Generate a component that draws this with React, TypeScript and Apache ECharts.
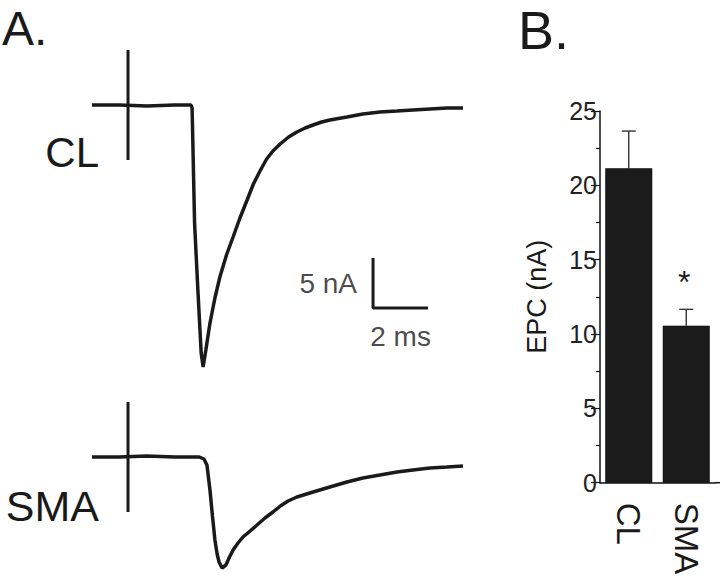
import React, { useEffect, useRef } from "react";
import * as echarts from "echarts";

// ---- Panel A: EPC traces (time in ms, current in nA) ----
const clTime = [0, 1.0, 2.0, 3.0, 3.6, 3.64, 3.73, 3.85, 3.97, 4.04, 4.14, 4.29, 4.47, 4.65, 4.89, 5.13, 5.38, 5.64, 5.87, 6.11, 6.35, 6.58, 6.84, 7.15, 7.45, 7.75, 8.04, 8.35, 8.65, 9.27, 9.85, 10.47, 11.09, 11.67, 12.29, 12.91, 13.49];
const clCurrent = [0, 0, -0.1, 0, 0, -0.3, -11.8, -18.5, -24.8, -26.2, -24.5, -21.8, -19.3, -17.2, -15.0, -13.2, -11.3, -9.5, -7.9, -6.6, -5.4, -4.6, -3.9, -3.2, -2.7, -2.3, -2.0, -1.7, -1.5, -1.2, -0.9, -0.7, -0.6, -0.5, -0.4, -0.3, -0.3];

const smaTime = [0, 1.0, 2.0, 3.0, 3.9, 4.07, 4.18, 4.29, 4.38, 4.47, 4.55, 4.62, 4.73, 4.87, 5.0, 5.13, 5.31, 5.49, 5.75, 6.0, 6.29, 6.58, 6.85, 7.13, 7.45, 8.04, 8.65, 9.27, 9.85, 10.47, 11.09, 11.67, 12.29, 12.91, 13.49];
const smaCurrent = [0, 0, 0.1, 0, 0, -0.2, -0.8, -3.3, -5.9, -8.3, -9.7, -10.5, -11.1, -10.8, -10.0, -9.3, -8.6, -8.0, -7.4, -6.8, -6.1, -5.5, -4.9, -4.4, -4.0, -3.5, -3.0, -2.5, -2.1, -1.8, -1.5, -1.3, -1.1, -1.0, -0.9];

// stimulus artifact (time, current span)
const stimTime = 1.31;
const stimSpan = [5.5, -5.5];

// scale bar: 5 nA vertical, 2 ms horizontal
const scaleBarTime = [10.22, 10.22, 12.22];
const scaleBarCurrent = [-15.3, -20.3, -20.3];
const scaleBarLabels = ["5 nA", "2 ms"];

const traceLabels = ["CL", "SMA"];

// ---- Panel B: bar chart ----
const categories = ["CL", "SMA"];
const epcMean = [21.15, 10.56];
const epcSem = [2.5, 1.1];
const significance = ["", "*"];
const yTicks = { min: 0, max: 25, interval: 5 };

const FONT = "'Liberation Sans', Arial, Helvetica, sans-serif";
const INK = "#1a1a1a";

export default function App() {
  const ref = useRef<HTMLDivElement>(null);

  useEffect(() => {
    if (!ref.current) return;
    const chart = echarts.init(ref.current, undefined, { renderer: "svg" });

    const zip = (a: number[], b: number[]) => a.map((v, i) => [v, b[i]]);

    const hiddenValue = (min: number, max: number, gridIndex: number) => ({
      type: "value" as const,
      gridIndex,
      min,
      max,
      show: false,
      splitLine: { show: false },
    });

    const traceStyle = { color: INK, width: 3.5 };

    const option: any = {
      animation: false,
      backgroundColor: "#ffffff",
      textStyle: { fontFamily: FONT },
      grid: [
        { left: 92, width: 371.25, top: 40, height: 340 },
        { left: 92, width: 371.25, top: 392, height: 185 },
        { left: 600, right: 5, top: 111, height: 371.7 },
      ],
      xAxis: [
        hiddenValue(0, 13.5, 0),
        hiddenValue(0, 13.5, 1),
        {
          type: "category",
          gridIndex: 2,
          data: categories,
          axisLine: { lineStyle: { color: "#111", width: 1.5 } },
          axisTick: { show: false },
          axisLabel: {
            rotate: -90,
            fontSize: 33,
            color: INK,
            margin: 20,
            fontFamily: FONT,
          },
        },
      ],
      yAxis: [
        hiddenValue(-27.5, 6.5, 0),
        hiddenValue(-12, 6.5, 1),
        {
          type: "value",
          gridIndex: 2,
          min: yTicks.min,
          max: yTicks.max,
          interval: yTicks.interval,
          splitLine: { show: false },
          axisLine: { show: true, lineStyle: { color: "#111", width: 1.5 } },
          axisTick: { show: true, length: 9, lineStyle: { color: "#111", width: 1.2 } },
          minorTick: { show: true, splitNumber: 2, length: 4, lineStyle: { color: "#111", width: 1.2 } },
          axisLabel: { fontSize: 25, color: "#222", margin: 3, fontFamily: FONT },
          name: "EPC (nA)",
          nameLocation: "middle",
          nameGap: 50,
          nameTextStyle: { fontSize: 27, color: INK, fontFamily: FONT },
        },
      ],
      series: [
        {
          type: "line",
          xAxisIndex: 0,
          yAxisIndex: 0,
          data: zip(clTime, clCurrent),
          showSymbol: false,
          lineStyle: traceStyle,
          smooth: false,
        },
        {
          type: "line",
          xAxisIndex: 0,
          yAxisIndex: 0,
          data: [[stimTime, stimSpan[0]], [stimTime, stimSpan[1]]],
          showSymbol: false,
          lineStyle: { color: INK, width: 3 },
        },
        {
          type: "line",
          xAxisIndex: 0,
          yAxisIndex: 0,
          data: zip(scaleBarTime, scaleBarCurrent),
          showSymbol: false,
          lineStyle: { color: INK, width: 3 },
        },
        {
          type: "scatter",
          xAxisIndex: 0,
          yAxisIndex: 0,
          symbolSize: 0,
          silent: true,
          data: [
            {
              value: [scaleBarTime[0], (scaleBarCurrent[0] + scaleBarCurrent[1]) / 2],
              label: { show: true, position: "left", distance: 16, formatter: scaleBarLabels[0] },
            },
            {
              value: [(scaleBarTime[1] + scaleBarTime[2]) / 2, scaleBarCurrent[2]],
              label: { show: true, position: "bottom", distance: 14, formatter: scaleBarLabels[1] },
            },
          ],
          label: { fontSize: 28, color: INK, fontFamily: FONT },
        },
        {
          type: "line",
          xAxisIndex: 1,
          yAxisIndex: 1,
          data: zip(smaTime, smaCurrent),
          showSymbol: false,
          lineStyle: traceStyle,
          smooth: false,
        },
        {
          type: "line",
          xAxisIndex: 1,
          yAxisIndex: 1,
          data: [[stimTime, stimSpan[0]], [stimTime, stimSpan[1]]],
          showSymbol: false,
          lineStyle: { color: INK, width: 3 },
        },
        {
          type: "bar",
          xAxisIndex: 2,
          yAxisIndex: 2,
          data: epcMean,
          barWidth: 47,
          itemStyle: { color: "#1b1b1b", borderColor: "#000", borderWidth: 0.5 },
        },
        {
          type: "custom",
          xAxisIndex: 2,
          yAxisIndex: 2,
          data: epcMean.map((m, i) => [i, m, epcSem[i]]),
          encode: { x: 0, y: 1 },
          renderItem: (params: any, api: any) => {
            const i = api.value(0);
            const mean = api.value(1);
            const err = api.value(2);
            const p0 = api.coord([i, mean]);
            const p1 = api.coord([i, mean + err]);
            const children: any[] = [
              {
                type: "line",
                shape: { x1: p0[0], y1: p0[1], x2: p1[0], y2: p1[1] },
                style: { stroke: "#333", lineWidth: 1.4 },
              },
              {
                type: "line",
                shape: { x1: p1[0] - 7, y1: p1[1], x2: p1[0] + 7, y2: p1[1] },
                style: { stroke: "#333", lineWidth: 1.4 },
              },
            ];
            const mark = significance[params.dataIndex];
            if (mark) {
              children.push({
                type: "text",
                x: p1[0] - 2,
                y: p1[1] - 27,
                style: {
                  text: mark,
                  fontSize: 32,
                  fontFamily: FONT,
                  fill: INK,
                  align: "center",
                  verticalAlign: "middle",
                },
              });
            }
            return { type: "group", children };
          },
        },
      ],
      graphic: [
        {
          type: "text",
          style: { text: "A.", x: 2, y: 28, fontSize: 48, fontFamily: FONT, fill: INK, verticalAlign: "middle" },
        },
        {
          type: "text",
          style: { text: "B.", x: 518, y: 30, fontSize: 54, fontFamily: FONT, fill: INK, verticalAlign: "middle" },
        },
        {
          type: "text",
          style: { text: traceLabels[0], x: 99, y: 152, fontSize: 42, fontFamily: FONT, fill: INK, align: "right", verticalAlign: "middle" },
        },
        {
          type: "text",
          style: { text: traceLabels[1], x: 99, y: 506, fontSize: 43, fontFamily: FONT, fill: INK, align: "right", verticalAlign: "middle" },
        },
        {
          type: "line",
          shape: { x1: 715, y1: 482.7, x2: 720, y2: 482.7 },
          style: { stroke: "#111", lineWidth: 1.5 },
        },
      ],
    };

    chart.setOption(option);
    return () => chart.dispose();
  }, []);

  return (
    <div
      ref={ref}
      style={{ position: "fixed", left: 0, top: 0, width: 720, height: 580, background: "#fff" }}
    />
  );
}
